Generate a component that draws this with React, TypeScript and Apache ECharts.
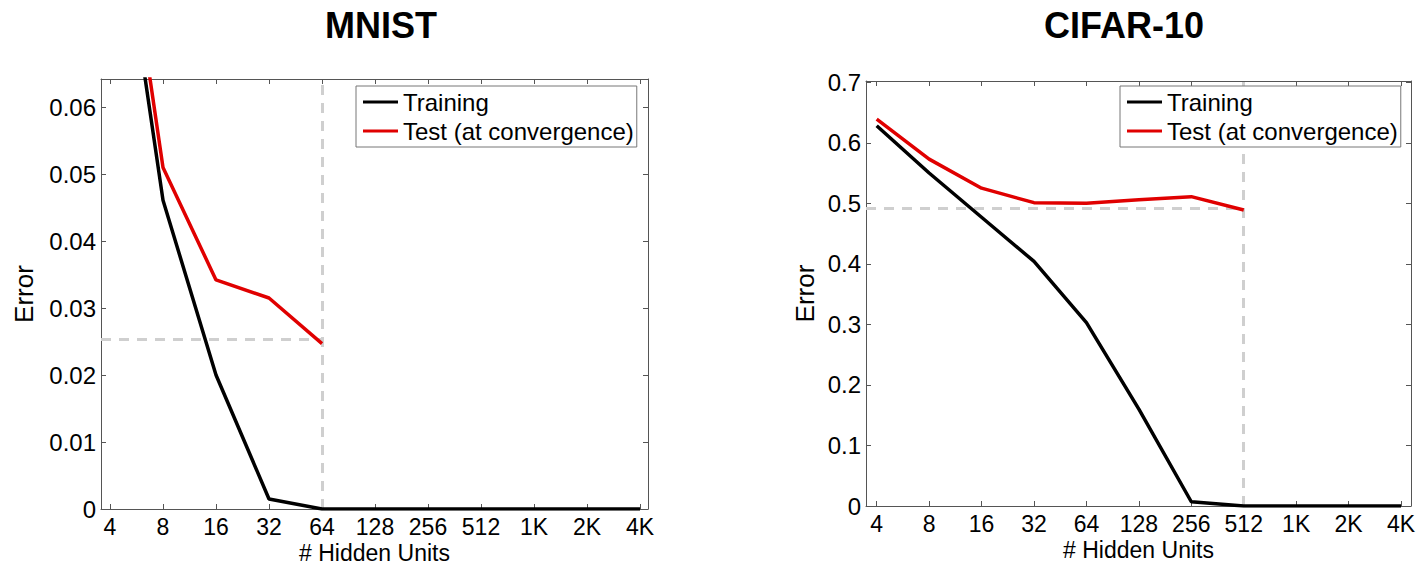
import React, { useEffect, useRef } from "react";
import * as echarts from "echarts";

// X axis: hidden units (log2 positions)
const hiddenUnitLabels = ["4", "8", "16", "32", "64", "128", "256", "512", "1K", "2K", "4K"];
const log2Units = [2, 3, 4, 5, 6, 7, 8, 9, 10, 11, 12];

// MNIST
const mnistTraining = [0.1, 0.0461, 0.02, 0.0015, 0, 0, 0, 0, 0, 0, 0];
const mnistTest = [0.105, 0.051, 0.0342, 0.0315, 0.0247];
const mnistYTicks = [0, 0.01, 0.02, 0.03, 0.04, 0.05, 0.06];
const mnistBestTest = 0.0254;
const mnistStopIndex = 4; // 64 units

// CIFAR-10
const cifarTraining = [0.628, 0.55, 0.477, 0.404, 0.303, 0.16, 0.007, 0, 0, 0, 0];
const cifarTest = [0.639, 0.573, 0.525, 0.501, 0.5, 0.506, 0.511, 0.489];
const cifarYTicks = [0, 0.1, 0.2, 0.3, 0.4, 0.5, 0.6, 0.7];
const cifarBestTest = 0.492;
const cifarStopIndex = 7; // 512 units

const FONT = "'Liberation Sans', Arial, Helvetica, sans-serif";

function pairs(vals: number[]) {
  return vals.map((v, i) => [log2Units[i], v]);
}

function axesFor(gridIndex: number, xMin: number, xMax: number, yMax: number, yTicks: number[], yNameGap: number, xNameGap: number) {
  const frame = { show: true, lineStyle: { color: "#555", width: 1 }, onZero: false };
  const tick = { show: true, inside: true, length: 5, lineStyle: { color: "#555", width: 1 } };
  const xAxes = [
    {
      type: "value",
      gridIndex,
      min: xMin,
      max: xMax,
      position: "bottom",
      axisLine: frame,
      axisTick: { ...tick, customValues: log2Units },
      splitLine: { show: false },
      axisLabel: {
        customValues: log2Units,
        formatter: (v: number) => hiddenUnitLabels[log2Units.indexOf(v)] ?? "",
        fontSize: 23,
        lineHeight: 20,
        fontFamily: FONT,
        color: "#000",
        margin: 7.5,
      },
      name: "# Hidden Units",
      nameLocation: "middle",
      nameGap: xNameGap,
      nameMoveOverlap: false,
      nameTextStyle: { fontSize: 23, fontFamily: FONT, color: "#000", lineHeight: 23 },
    },
    {
      type: "value",
      gridIndex,
      min: xMin,
      max: xMax,
      position: "top",
      axisLine: frame,
      axisTick: { ...tick, customValues: log2Units },
      splitLine: { show: false },
      axisLabel: { show: false, customValues: log2Units },
    },
  ];
  const yAxes = [
    {
      type: "value",
      gridIndex,
      min: 0,
      max: yMax,
      position: "left",
      axisLine: frame,
      axisTick: { ...tick, customValues: yTicks },
      splitLine: { show: false },
      axisLabel: {
        customValues: yTicks,
        formatter: (v: number) => String(v),
        fontSize: 24,
        fontFamily: FONT,
        color: "#000",
        margin: 5,
      },
      name: "Error",
      nameLocation: "middle",
      nameGap: yNameGap,
      nameMoveOverlap: false,
      nameTextStyle: { fontSize: 26, fontFamily: FONT, color: "#000" },
    },
    {
      type: "value",
      gridIndex,
      min: 0,
      max: yMax,
      position: "right",
      axisLine: frame,
      axisTick: { ...tick, customValues: yTicks },
      splitLine: { show: false },
      axisLabel: { show: false, customValues: yTicks },
    },
  ];
  return { xAxes, yAxes };
}

const dashStyle = { type: [10, 8] as any, color: "#cfcfcf", width: 3 };

export default function App() {
  const ref = useRef<HTMLDivElement>(null);
  useEffect(() => {
    if (!ref.current) return;
    const chart = echarts.init(ref.current, null, { renderer: "svg" });

    const mX = [1.83, 12.151];
    const mY = 0.0642;
    const cX = [1.796, 12.19];
    const cY = 0.702;

    const a0 = axesFor(0, mX[0], mX[1], mY, mnistYTicks, 64, 32);
    const a1 = axesFor(1, cX[0], cX[1], cY, cifarYTicks, 48, 32);

    const legendBase = {
      orient: "vertical",
      backgroundColor: "#fff",
      borderColor: "#777",
      borderWidth: 1,
      borderRadius: 0,
      padding: [3, 3, 3, 7],
      itemGap: 3,
      itemWidth: 35,
      itemHeight: 3,
      icon: "rect",
      textStyle: { fontSize: 24, fontFamily: FONT, color: "#000", lineHeight: 26 },
      data: ["Training", "Test (at convergence)"],
      selectedMode: false,
    };

    const option: any = {
      animation: false,
      backgroundColor: "#fff",
      title: [
        {
          text: "MNIST",
          left: 376,
          top: 2,
          textAlign: "center",
          textStyle: { fontSize: 36, fontWeight: "bold", fontFamily: FONT, color: "#000" },
        },
        {
          text: "CIFAR-10",
          left: 1119,
          top: 2,
          textAlign: "center",
          textStyle: { fontSize: 36, fontWeight: "bold", fontFamily: FONT, color: "#000" },
        },
      ],
      legend: [
        { ...legendBase, left: 356, top: 86 },
        { ...legendBase, left: 1120, top: 86 },
      ],
      grid: [
        { left: 101, top: 79, width: 547, height: 430, outerBoundsMode: "none", containLabel: false },
        { left: 866, top: 81, width: 545, height: 425, outerBoundsMode: "none", containLabel: false },
      ],
      xAxis: [...a0.xAxes, ...a1.xAxes],
      yAxis: [...a0.yAxes, ...a1.yAxes],
      series: [
        {
          name: "Training",
          type: "line",
          xAxisIndex: 0,
          yAxisIndex: 0,
          data: pairs(mnistTraining),
          symbol: "none",
          lineStyle: { color: "#000", width: 3.5 },
          itemStyle: { color: "#000" },
          z: 3,
        },
        {
          name: "Test (at convergence)",
          type: "line",
          xAxisIndex: 0,
          yAxisIndex: 0,
          data: pairs(mnistTest),
          symbol: "none",
          lineStyle: { color: "#e00000", width: 3.5 },
          itemStyle: { color: "#e00000" },
          z: 4,
          markLine: {
            silent: true,
            symbol: "none",
            label: { show: false },
            lineStyle: dashStyle,
            emphasis: { disabled: true },
            z: 2,
            data: [
              [{ coord: [mX[0], mnistBestTest] }, { coord: [log2Units[mnistStopIndex], mnistBestTest] }],
              [{ coord: [log2Units[mnistStopIndex], 0] }, { coord: [log2Units[mnistStopIndex], mY] }],
            ],
          },
        },
        {
          name: "Training",
          type: "line",
          xAxisIndex: 2,
          yAxisIndex: 2,
          data: pairs(cifarTraining),
          symbol: "none",
          lineStyle: { color: "#000", width: 3.5 },
          itemStyle: { color: "#000" },
          z: 3,
        },
        {
          name: "Test (at convergence)",
          type: "line",
          xAxisIndex: 2,
          yAxisIndex: 2,
          data: pairs(cifarTest),
          symbol: "none",
          lineStyle: { color: "#e00000", width: 3.5 },
          itemStyle: { color: "#e00000" },
          z: 4,
          markLine: {
            silent: true,
            symbol: "none",
            label: { show: false },
            lineStyle: dashStyle,
            emphasis: { disabled: true },
            z: 2,
            data: [
              [{ coord: [cX[0], cifarBestTest] }, { coord: [log2Units[cifarStopIndex], cifarBestTest] }],
              [{ coord: [log2Units[cifarStopIndex], 0] }, { coord: [log2Units[cifarStopIndex], cY] }],
            ],
          },
        },
      ],
    };

    chart.setOption(option);
    return () => chart.dispose();
  }, []);

  return (
    <div
      ref={ref}
      style={{ position: "absolute", left: 0, top: 0, width: 1420, height: 566 }}
    />
  );
}
